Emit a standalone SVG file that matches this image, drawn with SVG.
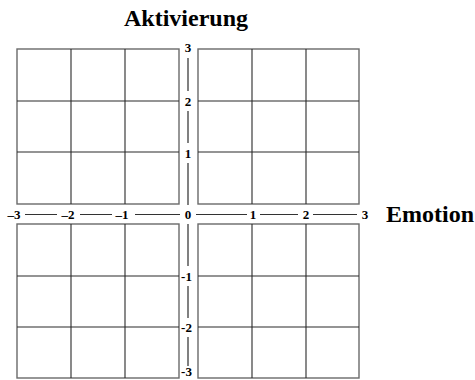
<svg xmlns="http://www.w3.org/2000/svg" width="475" height="380" viewBox="0 0 475 380">
<style>
.outer{fill:none;stroke:#6a6a6a;stroke-width:1.4}
.inner{stroke:#2a2a2a;stroke-width:1.1}
.hax{stroke:#333;stroke-width:1.2}
.vax{stroke:#808080;stroke-width:2}
.tick{font-family:"Liberation Serif",serif;font-weight:bold;font-size:13px;fill:#000;text-anchor:middle}
.title{font-family:"Liberation Serif",serif;font-weight:bold;font-size:24px;fill:#000}
</style>
<rect width="475" height="380" fill="#fff"/>
<g id="q-top-left">
<rect class="outer" x="17" y="49" width="162" height="155"/>
<path class="inner" d="M71 49V204M125 49V204M17 101H179M17 152H179"/>
</g>
<g id="q-top-right">
<rect class="outer" x="198" y="49" width="161" height="155"/>
<path class="inner" d="M252 49V204M306 49V204M198 101H359M198 152H359"/>
</g>
<g id="q-bottom-left">
<rect class="outer" x="17" y="224" width="162" height="154"/>
<path class="inner" d="M71 224V378M125 224V378M17 276H179M17 327H179"/>
</g>
<g id="q-bottom-right">
<rect class="outer" x="198" y="224" width="161" height="154"/>
<path class="inner" d="M252 224V378M306 224V378M198 276H359M198 327H359"/>
</g>
<g id="connectors">
<path class="hax" d="M25 214.5H57M80 214.5H112M135 214.5H180M196 214.5H247M260 214.5H298M313 214.5H357"/>
<path class="vax" d="M188 58V91M188 111V143M188 163V205M188 224V266M188 286V318M188 337V366"/>
</g>
<g id="x-axis-labels">
<text class="tick" x="14" y="219">–3</text>
<text class="tick" x="68" y="219">–2</text>
<text class="tick" x="122" y="219">–1</text>
<text class="tick" x="188" y="219">0</text>
<text class="tick" x="253" y="219">1</text>
<text class="tick" x="306" y="219">2</text>
<text class="tick" x="365" y="219">3</text>
</g>
<g id="y-axis-labels">
<text class="tick" x="188" y="52">3</text>
<text class="tick" x="188" y="105.5">2</text>
<text class="tick" x="188" y="157.5">1</text>
<text class="tick" x="186.5" y="280.5">-1</text>
<text class="tick" x="186.5" y="331.5">-2</text>
<text class="tick" x="186.5" y="376">-3</text>
</g>
<text class="title" x="186" y="26" text-anchor="middle">Aktivierung</text>
<text class="title" x="386" y="221.5">Emotion</text>
</svg>
